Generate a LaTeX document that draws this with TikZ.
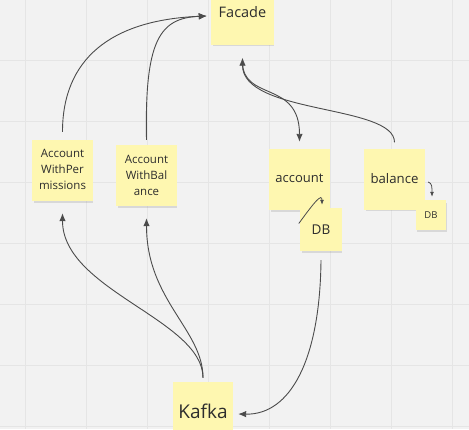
\documentclass[tikz,border=0pt]{standalone}
\usepackage{fontspec}
\setmainfont{Open Sans}
\usepackage{tikz}
\usetikzlibrary{arrows.meta, positioning, calc, shadows}
\definecolor{board}{RGB}{242,242,242}
\definecolor{gridline}{RGB}{229,229,229}
\definecolor{stickyyellow}{RGB}{254,247,176}
\definecolor{linegrey}{RGB}{75,75,75}
\definecolor{inkgrey}{RGB}{45,45,45}
\tikzstyle{sticky} = [rectangle, minimum width=61pt, minimum height=61pt, inner sep=0pt, text centered, align=center, fill=stickyyellow, text=inkgrey, drop shadow={shadow xshift=1pt, shadow yshift=-3pt, opacity=0.22, shadow scale=0.97}]
\tikzstyle{arrow} = [draw=linegrey, line width=0.9pt, -{Latex[length=8pt,width=6.5pt]}]
\tikzstyle{smallarrow} = [draw=linegrey, line width=0.8pt, -{Latex[length=5pt,width=4pt]}]

\begin{document}
\begin{tikzpicture}[x=1pt, y=-1pt]

\clip (0,0) rectangle (469,429);
\fill[board] (0,0) rectangle (469,429);
% board grid
\foreach \gx in {25,86,...,460} \draw[gridline, line width=0.8pt] (\gx,0) -- (\gx,429);
\foreach \gy in {-1,60,...,430} \draw[gridline, line width=0.8pt] (0,\gy) -- (469,\gy);

\node (facade) [sticky, minimum width=63pt, minimum height=63pt, font=\fontsize{14.5}{17}\selectfont] at (242.5,13) {\raisebox{2pt}{Facade}};
\node (awp) [sticky, font=\fontsize{11.5}{16}\selectfont] at (62.5,170.5) {\raisebox{2pt}{\begin{tabular}{@{}c@{}}Account\\WithPer\\missions\end{tabular}}};
\node (awb) [sticky, font=\fontsize{11.5}{16}\selectfont] at (146.5,175.5) {Account\\WithBal\\ance};
\node (account) [sticky, font=\fontsize{13}{16}\selectfont] at (299.5,179.5) {\raisebox{2pt}{account}};
\node (acctdb) [sticky, minimum width=42pt, minimum height=43pt, font=\fontsize{13.5}{16}\selectfont] at (321,229.5) {DB};
\node (balance) [sticky, font=\fontsize{13.2}{16}\selectfont] at (394.5,179) {balance};
\node (baldb) [sticky, minimum width=30pt, minimum height=30pt, font=\fontsize{9.5}{12}\selectfont] at (431,215) {DB};
\node (kafka) [sticky, minimum width=60pt, minimum height=60pt, font=\fontsize{19}{22}\selectfont] at (203,412) {\raisebox{1pt}{Kafka}};

\draw [arrow] ($(awp.north)+(0,-8)$) .. controls +(0,-72) and +(-97,4) .. ($(facade.west)+(-4,3)$);
\draw [arrow] ($(awb.north)+(0,-5)$) .. controls +(-2,-100) and +(-47,2) .. ($(facade.west)+(-4,3)$);
\draw [arrow] ($(balance.north)+(0,-6)$) .. controls +(0,-38) and +(0,57) .. ($(facade.south)+(0,13)$);
\draw [arrow] ($(facade.south)+(0,17)$) .. controls +(0,40) and +(0,-62) .. ($(account.north)+(0,-7)$);
\draw [arrow] ($(kafka.north)+(0,-4)$) .. controls +(0,-58) and +(0,77) .. ($(awp.south)+(0,12)$);
\draw [arrow] ($(kafka.north)+(0,-4)$) .. controls +(0,-48) and +(0,82) .. ($(awb.south)+(0,12)$);
\draw [arrow] ($(acctdb.south)+(0,9)$) .. controls +(-1,100) and +(52,1) .. ($(kafka.east)+(5,2)$);
\draw [smallarrow] ($(acctdb.west)+(-1,-6)$) .. controls +(16,-22) and +(0,-12) .. ($(acctdb.north)+(1,-3)$);
\draw [smallarrow] ($(balance.east)+(3,3)$) .. controls +(4,1) and +(0,-9) .. ($(baldb.north)+(1,-3)$);

\end{tikzpicture}
\end{document}
